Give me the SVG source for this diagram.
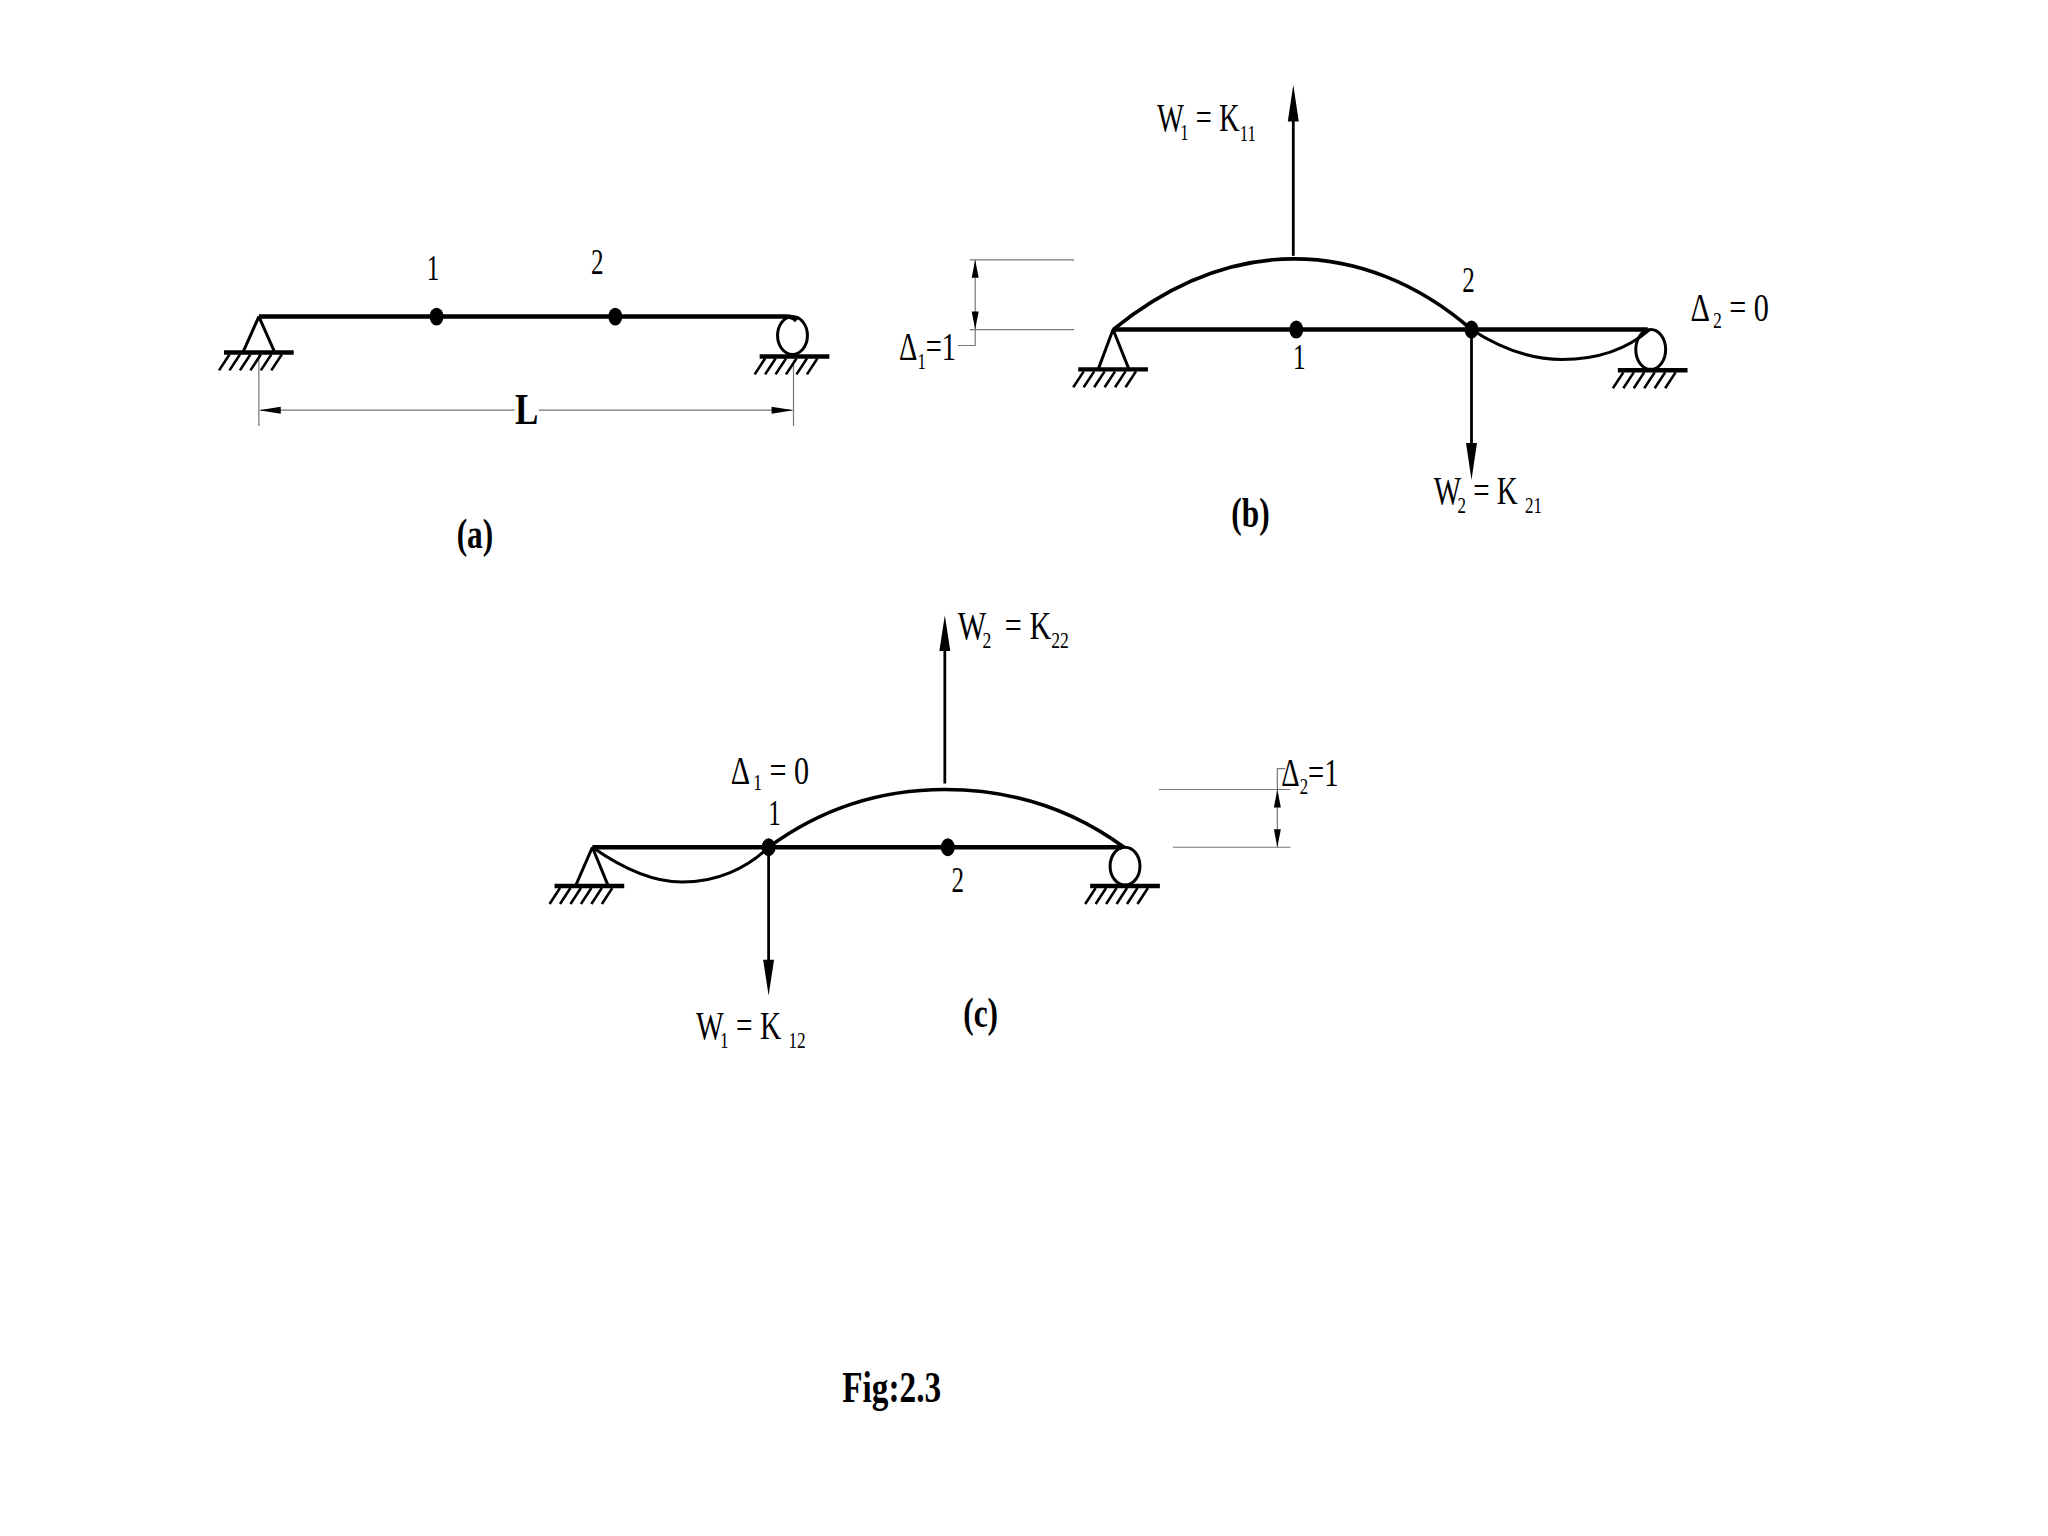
<svg xmlns="http://www.w3.org/2000/svg" width="2048" height="1536" viewBox="0 0 2048 1536">
<style>
text{font-family:"Liberation Serif","Times New Roman",serif;fill:#000}
.n{font-size:35px}
.t{font-size:41px}
.lab{font-size:42px;font-weight:bold}
.sm{font-size:24px}
.beam{fill:none;stroke:#000;stroke-width:4.5}
.curve{fill:none;stroke:#000;stroke-width:3.6}
.sup{fill:none;stroke:#000;stroke-width:3}
.gl{stroke:#000;stroke-width:4.5}
.ha{stroke:#000;stroke-width:2.6}
.dim{fill:none;stroke:#777;stroke-width:1.2}
.shaft{stroke:#000;stroke-width:2.8;fill:none}
.dot{fill:#000}
</style>
<defs>
<g id="ground">
<line class="gl" x1="0" y1="0" x2="70" y2="0"/>
<path class="ha" d="M5.5 2L-5 18M16 2L5.500 18M26.500 2L16 18M37 2L26.500 18M47.500 2L37 18M58 2L47.500 18"/>
</g>
</defs>
<rect width="2048" height="1536" fill="#fff"/>
<g transform="scale(.9956)">
<g id="connectors">
<path class="dim" d="M260 356V428M797 362V428"/>
<path class="dim" d="M262 412H517M541 412H795"/>
<path d="M260 412L282 408.500V415.500ZM797 412L775 408.500V415.500Z" fill="#000"/>
<path class="dim" d="M974 261H1079M974 331H1079M979.500 261V347H962"/>
<path d="M979.500 261L976 279H983ZM979.500 331L976 313H983Z" fill="#000"/>
<path class="dim" d="M1164 793H1296M1178 851H1296M1283 851V772H1291"/>
<path d="M1283 793L1279.500 811H1286.500ZM1283 851L1279.500 833H1286.500Z" fill="#000"/>
<line class="shaft" x1="1299" y1="257" x2="1299" y2="115"/>
<path d="M1299 85L1304.500 122H1293.500Z" fill="#000"/>
<line class="shaft" x1="1478" y1="331" x2="1478" y2="450"/>
<path d="M1478 482L1472.500 445H1483.500Z" fill="#000"/>
<line class="shaft" x1="949" y1="787" x2="949" y2="650"/>
<path d="M949 618L954.500 654H943.500Z" fill="#000"/>
<line class="shaft" x1="772" y1="851" x2="772" y2="970"/>
<path d="M772 1000L766.500 964H777.500Z" fill="#000"/>
</g>

<g id="beam-a">
<path class="beam" d="M260 318H790Q796 318 800 322"/>
<path class="sup" d="M260 318L244 354M260 318L276 354"/>
<use href="#ground" x="225" y="354"/>
<ellipse class="sup" cx="796" cy="337" rx="15" ry="19"/>
<use href="#ground" x="763" y="358"/>
</g>
<g id="node-a1"><ellipse class="dot" cx="438.500" cy="318" rx="7" ry="9"/><text class="n" transform="translate(435,281) scale(.72,1)" text-anchor="middle">1</text></g>
<g id="node-a2"><ellipse class="dot" cx="618" cy="318" rx="7" ry="9"/><text class="n" transform="translate(600,275) scale(.72,1)" text-anchor="middle">2</text></g>
<text id="dim-L" transform="translate(529,426) scale(.8,1)" text-anchor="middle" font-size="44" font-weight="bold">L</text>
<text id="label-a" class="lab" transform="translate(477,550) scale(.75,1)" text-anchor="middle">(a)</text>

<g id="beam-b">
<path class="beam" d="M1118 331H1655"/>
<path class="curve" d="M1118 331C1176 284 1238 260 1300 260C1362 260 1424 284 1478 331"/>
<path class="curve" style="stroke-width:3" d="M1478 331C1510 352 1540 361 1569 361C1605 361 1635 350 1657 331"/>
<path class="sup" d="M1118 331L1103 371M1118 331L1134 371"/>
<use href="#ground" x="1083" y="371"/>
<ellipse class="sup" cx="1658" cy="351" rx="15" ry="20"/>
<use href="#ground" x="1625" y="372"/>
</g>
<g id="node-b1"><ellipse class="dot" cx="1302" cy="331" rx="7" ry="9"/><text class="n" transform="translate(1305,371) scale(.72,1)" text-anchor="middle">1</text></g>
<g id="node-b2"><ellipse class="dot" cx="1478" cy="331" rx="7" ry="9"/><text class="n" transform="translate(1475,293) scale(.72,1)" text-anchor="middle">2</text></g>
<text id="w1-k11" class="t" transform="translate(1162,132) scale(.7,1)">W<tspan class="sm" dy="9" dx="-5">1</tspan><tspan dy="-9"> = K</tspan><tspan class="sm" dy="10">11</tspan></text>
<text id="w2-k21" class="t" transform="translate(1440,506) scale(.71,1)">W<tspan class="sm" dy="9" dx="-5">2</tspan><tspan dy="-9"> = K </tspan><tspan class="sm" dy="9">21</tspan></text>
<text id="d1-1" class="t" transform="translate(903,362) scale(.7,1)">Δ<tspan class="sm" dy="9" dx="0">1</tspan><tspan dy="-9">=1</tspan></text>
<text id="d2-0" class="t" transform="translate(1698,322) scale(.74,1)">Δ<tspan class="sm" dy="7" dx="4">2</tspan><tspan dy="-7"> = 0</tspan></text>
<text id="label-b" class="lab" transform="translate(1256,529) scale(.75,1)" text-anchor="middle">(b)</text>

<g id="beam-c">
<path class="beam" d="M595 851H1127"/>
<path class="curve" d="M772 851C825 812 885 793 949 793C1020 793 1080 815 1129 851"/>
<path class="curve" style="stroke-width:3" d="M595 851C625 872 655 886 685 886C720 886 750 872 772 851"/>
<path class="sup" d="M595 851L578 890M595 851L611 890"/>
<use href="#ground" x="557" y="890"/>
<ellipse class="sup" cx="1130" cy="870" rx="15" ry="19"/>
<use href="#ground" x="1095" y="890"/>
</g>
<g id="node-c1"><ellipse class="dot" cx="772" cy="851" rx="7" ry="9"/><text class="n" transform="translate(778,829) scale(.72,1)" text-anchor="middle">1</text></g>
<g id="node-c2"><ellipse class="dot" cx="952" cy="851" rx="7" ry="9"/><text class="n" transform="translate(962,896) scale(.72,1)" text-anchor="middle">2</text></g>
<text id="w2-k22" class="t" transform="translate(962,642) scale(.74,1)">W<tspan class="sm" dy="9" dx="-5">2</tspan><tspan dy="-9" dx="8"> = K</tspan><tspan class="sm" dy="9">22</tspan></text>
<text id="w1-k12" class="t" transform="translate(699,1044) scale(.72,1)">W<tspan class="sm" dy="9" dx="-5">1</tspan><tspan dy="-9"> = K </tspan><tspan class="sm" dy="9">12</tspan></text>
<text id="d1-0" class="t" transform="translate(734,787) scale(.74,1)">Δ<tspan class="sm" dy="6" dx="4">1</tspan><tspan dy="-6"> = 0</tspan></text>
<text id="d2-1" class="t" transform="translate(1287,789) scale(.7,1)">Δ<tspan class="sm" dy="9" dx="0">2</tspan><tspan dy="-9">=1</tspan></text>
<text id="label-c" class="lab" transform="translate(985,1032) scale(.75,1)" text-anchor="middle">(c)</text>

<text id="caption" transform="translate(846,1408) scale(.76,1)" font-size="44" font-weight="bold">Fig:2.3</text>
</g>
</svg>
